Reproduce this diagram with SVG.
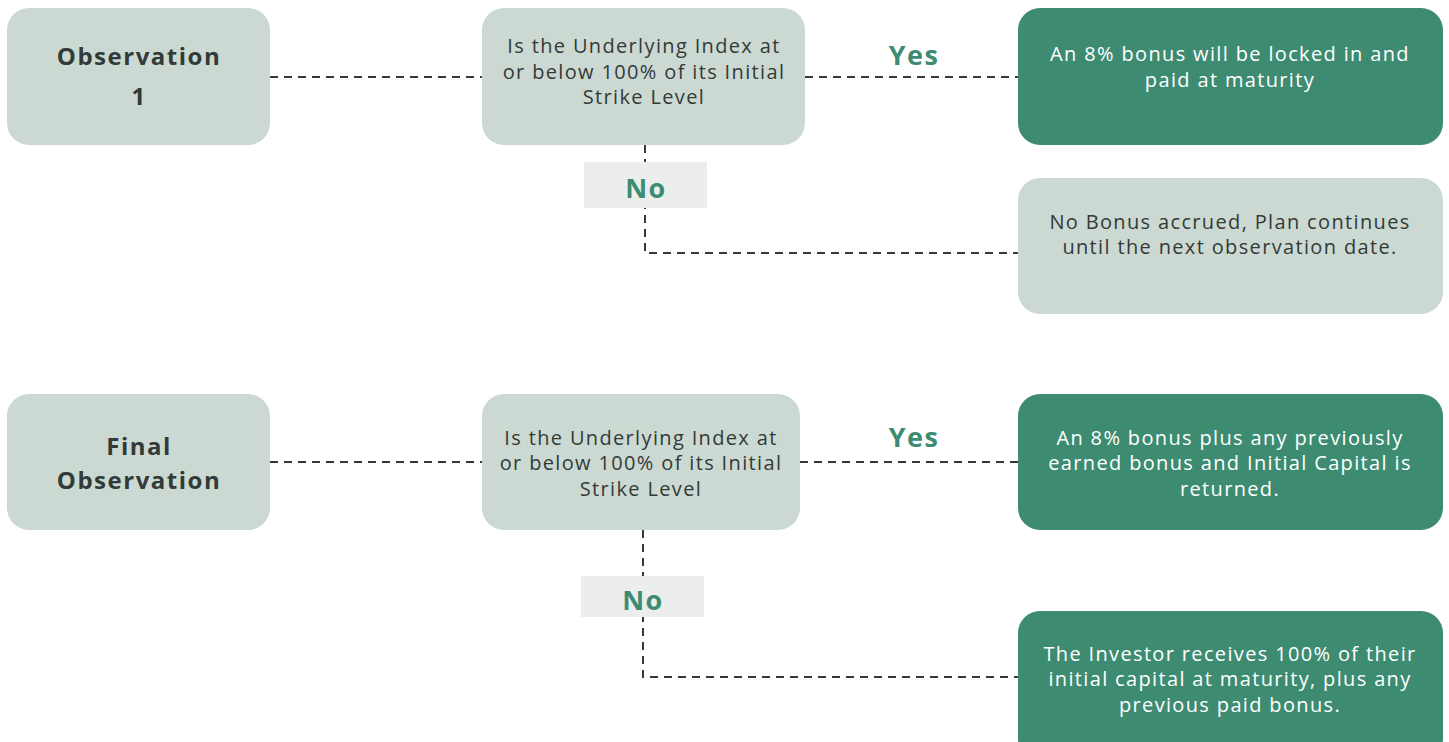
<svg xmlns="http://www.w3.org/2000/svg" width="1449" height="742" viewBox="0 0 1449 742">
<style>
.lt{fill:#cbd9d2}
.gr{fill:#3d8c72}
.lb{fill:#ebeeec}
.t{font-family:"Open Sans","Liberation Sans",sans-serif;font-size:20px;letter-spacing:1.35px;text-anchor:middle;fill:#333a38}
.w{fill:#ffffff}
.h{font-family:"Open Sans","Liberation Sans",sans-serif;font-size:24px;letter-spacing:1.5px;font-weight:700;text-anchor:middle;fill:#333a38}
.yn{font-family:"Open Sans","Liberation Sans",sans-serif;font-size:27px;letter-spacing:1.5px;font-weight:700;text-anchor:middle;fill:#3d8c72}
.c{fill:none;stroke:#333a38;stroke-width:2;stroke-dasharray:8 6}
</style>
<rect width="1449" height="742" fill="#ffffff"/>
<g id="connectors">
<line class="c" x1="270" y1="77" x2="482" y2="77"/>
<line class="c" x1="805" y1="77" x2="1018" y2="77"/>
<polyline class="c" points="645,145 645,253 1018,253"/>
<line class="c" x1="270" y1="462" x2="482" y2="462"/>
<line class="c" x1="800" y1="462" x2="1018" y2="462"/>
<polyline class="c" points="643,530 643,677 1018,677"/>
</g>
<g id="obs1">
<rect class="lt" x="7" y="8" width="263" height="137" rx="22"/>
<text class="h" x="139" y="65">Observation</text>
<text class="h" x="139" y="105">1</text>
</g>
<g id="q1">
<rect class="lt" x="482" y="8" width="323" height="137" rx="22"/>
<text class="t" x="644" y="53">Is the Underlying Index at</text>
<text class="t" x="644" y="79">or below 100% of its Initial</text>
<text class="t" x="644" y="104">Strike Level</text>
</g>
<g id="yes1"><text class="yn" x="914" y="65">Yes</text></g>
<g id="no1">
<rect class="lb" x="584" y="162" width="123" height="46"/>
<text class="yn" x="646" y="198">No</text>
</g>
<g id="r1">
<rect class="gr" x="1018" y="8" width="425" height="137" rx="22"/>
<text class="t w" x="1230" y="61">An 8% bonus will be locked in and</text>
<text class="t w" x="1230" y="87">paid at maturity</text>
</g>
<g id="r2">
<rect class="lt" x="1018" y="178" width="425" height="136" rx="22"/>
<text class="t" x="1230" y="229">No Bonus accrued, Plan continues</text>
<text class="t" x="1230" y="254">until the next observation date.</text>
</g>
<g id="obsF">
<rect class="lt" x="7" y="394" width="263" height="136" rx="22"/>
<text class="h" x="139" y="455">Final</text>
<text class="h" x="139" y="489">Observation</text>
</g>
<g id="q2">
<rect class="lt" x="482" y="394" width="318" height="136" rx="22"/>
<text class="t" x="641" y="445">Is the Underlying Index at</text>
<text class="t" x="641" y="470">or below 100% of its Initial</text>
<text class="t" x="641" y="496">Strike Level</text>
</g>
<g id="yes2"><text class="yn" x="914" y="447">Yes</text></g>
<g id="no2">
<rect class="lb" x="581" y="576" width="123" height="41"/>
<text class="yn" x="643" y="610">No</text>
</g>
<g id="r3">
<rect class="gr" x="1018" y="394" width="425" height="136" rx="22"/>
<text class="t w" x="1230" y="445">An 8% bonus plus any previously</text>
<text class="t w" x="1230" y="470">earned bonus and Initial Capital is</text>
<text class="t w" x="1230" y="496">returned.</text>
</g>
<g id="r4">
<rect class="gr" x="1018" y="611" width="425" height="150" rx="22"/>
<text class="t w" x="1230" y="661">The Investor receives 100% of their</text>
<text class="t w" x="1230" y="686">initial capital at maturity, plus any</text>
<text class="t w" x="1230" y="712">previous paid bonus.</text>
</g>
</svg>
